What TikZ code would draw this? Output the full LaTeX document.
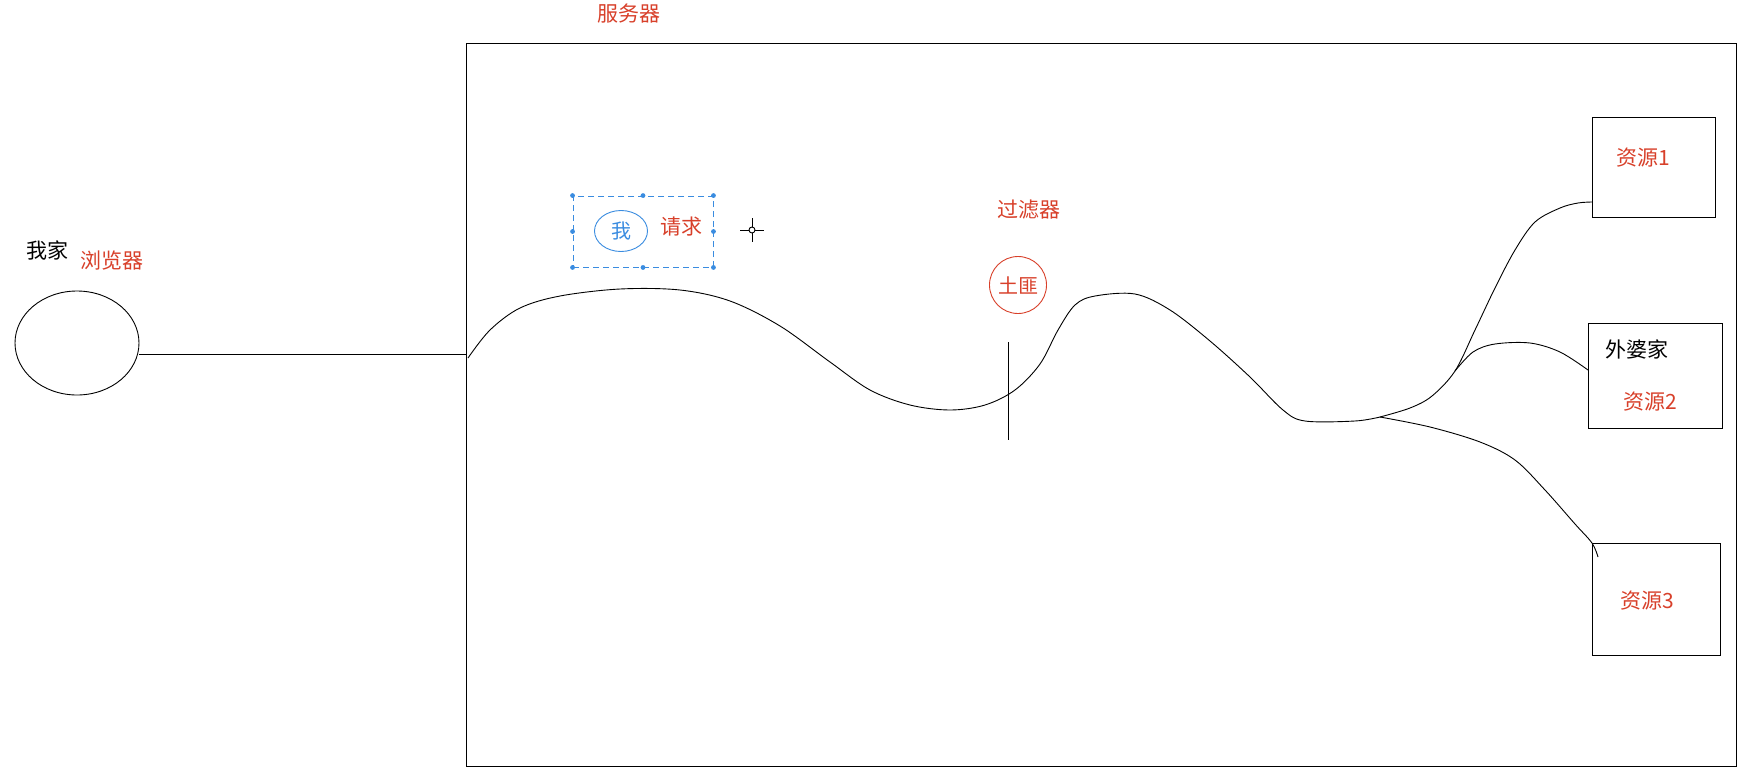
\documentclass[tikz,border=0pt]{standalone}
\usepackage{fontspec}
\usetikzlibrary{shapes.geometric}
\newfontfamily\cjk{Noto Sans CJK SC}
\definecolor{labelred}{HTML}{D8402A}
\definecolor{selblue}{HTML}{3A8CE0}
\begin{document}
\begin{tikzpicture}[x=1pt, y=-1pt,
    txt/.style={font=\cjk\fontsize{21}{25}\selectfont, inner sep=0pt},
    redtxt/.style={txt, text=labelred},
    resbox/.style={draw, line width=1pt, inner sep=0pt},
    wire/.style={line width=0.9pt, line join=round}]
    \useasboundingbox[fill=white] (0,0) rectangle (1762,780);

    % Servidor
    \node[resbox, minimum width=1270pt, minimum height=723pt] (server) at (1101,404.5) {};
    \node[redtxt] (serverlbl) at (629,14) {服务器};

    % Navegador (casa)
    \node[draw, line width=0.9pt, ellipse, minimum width=124pt, minimum height=104pt,
        inner sep=0pt] (home) at (77,343) {};
    \node[txt] (homelbl) at (47,250) {我家};
    \node[redtxt] (browserlbl) at (112,261) {浏览器};
    \draw[wire] (home.east |- 0,354) -- (server.west |- 0,354);

    % Recursos
    \node[resbox, minimum width=123pt, minimum height=100pt] (r1) at (1653.5,167.5) {};
    \node[resbox, minimum width=134pt, minimum height=105pt] (r2) at (1655,375.5) {};
    \node[resbox, minimum width=128pt, minimum height=112pt] (r3) at (1656,599) {};
    \node[redtxt] (r1lbl) at (1643,158) {资源1};
    \node[txt] (r2top) at (1637,349) {外婆家};
    \node[redtxt] (r2lbl) at (1650,402) {资源2};
    \node[redtxt] (r3lbl) at (1647,601) {资源3};
    \coordinate (r1in) at (1592,202);
    \coordinate (r2in) at (1588,370);
    \coordinate (r3in) at (1598,557);

    % Camino de la peticion
    \coordinate (start) at (468,358);
    \coordinate (fork) at (1380,417);
    \coordinate (fork2) at (1455,371);
    \draw[wire] plot[smooth, tension=0.55] coordinates {(start) (490,330) (520,308) (560,296)
        (620,289) (680,290) (730,301) (780,326) (830,362) (870,390) (910,405) (950,410)
        (985,405) (1015,390) (1040,364) (1058,330) (1075,305) (1095,296) (1135,294)
        (1170,310) (1210,341) (1250,377) (1283,410) (1305,421) (1355,421) (fork)};

    % Ramas hacia los recursos
    \draw[wire] plot[smooth, tension=0.55] coordinates {(fork) (1410,408) (1432,396) (fork2)
        (1475,330) (1495,288) (1515,250) (1535,222) (1560,208) (1578,203) (r1in)};
    \draw[wire] plot[smooth, tension=0.55] coordinates {(fork2) (1473,352) (1495,344)
        (1530,343) (1560,352) (r2in)};
    \draw[wire] plot[smooth, tension=0.55] coordinates {(fork) (1430,427) (1480,442)
        (1515,460) (1545,490) (1575,524) (1592,543) (r3in)};

    % Filtro
    \draw[wire] (1008,342) -- (1008,440);
    \node[redtxt] (filterlbl) at (1029,210) {过滤器};
    \node[draw=labelred, line width=0.9pt, circle, minimum size=57pt, inner sep=0pt,
        text=labelred, font=\cjk\fontsize{20}{24}\selectfont] (bandit) at (1018,285) {土匪};

    % Peticion seleccionada
    \node[draw=selblue, dash pattern=on 6pt off 4pt, line width=0.9pt, minimum width=140pt,
        minimum height=71pt, inner sep=0pt] (sel) at (643,231.5) {};
    \foreach \p in {north west, north, north east, west, east, south west, south, south east}
        \fill[selblue] (sel.\p) circle (2.4);
    \node[draw=selblue, line width=0.9pt, ellipse, minimum width=53pt, minimum height=41pt,
        inner sep=0pt, text=selblue, font=\cjk\fontsize{20}{24}\selectfont] (me) at (621,231) {我};
    \node[redtxt] (reqlbl) at (681,227) {请求};

    % Cursor
    \draw[line width=0.9pt] (740,230) -- (764,230) (752,218) -- (752,242);
    \draw[line width=0.9pt, fill=white] (752,230) circle (3);
\end{tikzpicture}
\end{document}
